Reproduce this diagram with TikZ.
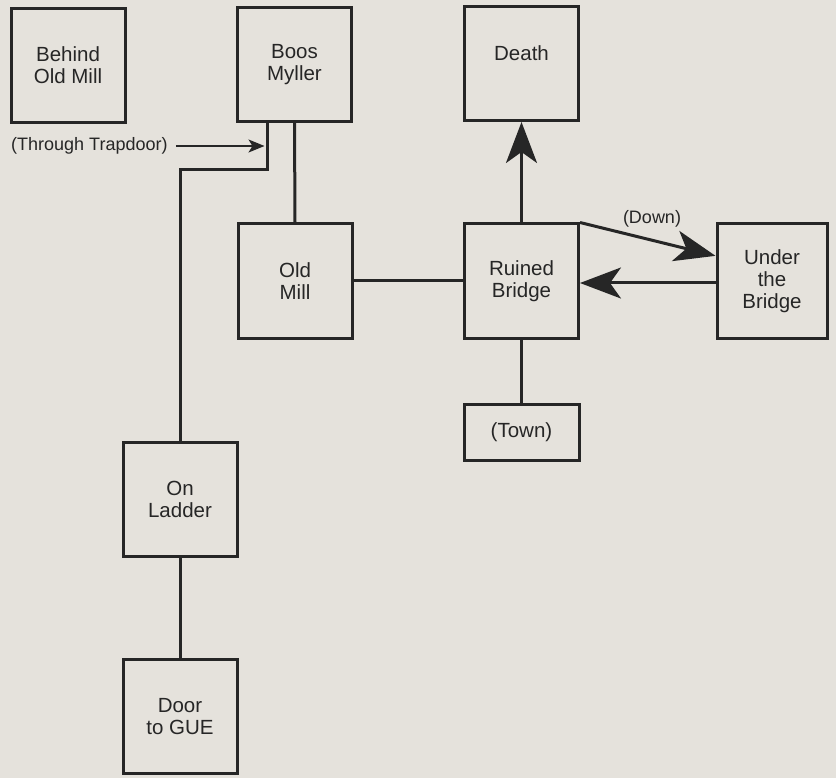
\documentclass[tikz,border=0pt]{standalone}
\usepackage{fontspec}
\setmainfont{Liberation Sans}
\usetikzlibrary{arrows.meta,calc}
\definecolor{paper}{HTML}{E5E2DC}
\definecolor{ink}{HTML}{262626}
\begin{document}
\begin{tikzpicture}[x=1pt,y=-1pt,
  room/.style={draw=ink,line width=3pt,minimum width=114pt,minimum height=114pt,inner sep=0pt,align=center,text=ink,font=\fontsize{20.5}{22}\selectfont},
  link/.style={draw=ink,line width=3pt},
  bigarrow/.style={-{Stealth[length=41pt,width=31pt,inset=11pt]}},
  lbl/.style={text=ink,font=\fontsize{18}{20}\selectfont,inner sep=0pt}]
\fill[paper] (0,0) rectangle (836,778);
\useasboundingbox (0,0) rectangle (836,778);
\node[room] (behind) at (68,65.5) {Behind\\Old Mill};
\node[room] (boos) at (294.5,64.5) {Boos\\Myller};
\node[room] (death) at (521.5,63.5) {Death\\[-1pt]\mbox{}};
\node[room] (oldmill) at (295,281) {Old\\Mill};
\node[room] (ruined) at (521.5,281) {Ruined\\Bridge};
\node[room,minimum width=110pt] (under) at (772,281) {Under\\the\\Bridge};
\node[room,minimum width=115pt,minimum height=56pt] (town) at (521.5,432) {(Town)};
\node[room] (ladder) at (180,499.5) {On\\Ladder};
\node[room] (door) at (180,716.5) {Door\\to GUE};
\node[lbl,anchor=west] (trap) at (11,146) {(Through Trapdoor)};
\node[lbl] (down) at (652,219) {(Down)};
\coordinate (tpa) at (267,170);
\coordinate (dnend) at ($(under.north west)!0.285!(under.south west)$);
% connectors
\draw[link] (boos.south) -- (oldmill.north);
\draw[link] (boos.south -| tpa) -- (tpa) -| (ladder.north);
\draw[draw=ink,line width=1.6pt,-{Stealth[length=16pt,width=13pt,inset=4pt]},shorten >=2.5pt] (trap.east) ++(8,0) -- (trap.east -| tpa);
\draw[link] (oldmill.east) -- (ruined.west);
\draw[link,bigarrow] (ruined.north) -- (death.south);
\draw[link,bigarrow] (ruined.north east) -- (dnend);
\draw[link,bigarrow] (under.west |- ruined.east) ++(0,2) -- ($(ruined.east)+(0,2)$);
\draw[link] (ruined.south) -- (town.north);
\draw[link] (ladder.south) -- (door.north);
\end{tikzpicture}
\end{document}
